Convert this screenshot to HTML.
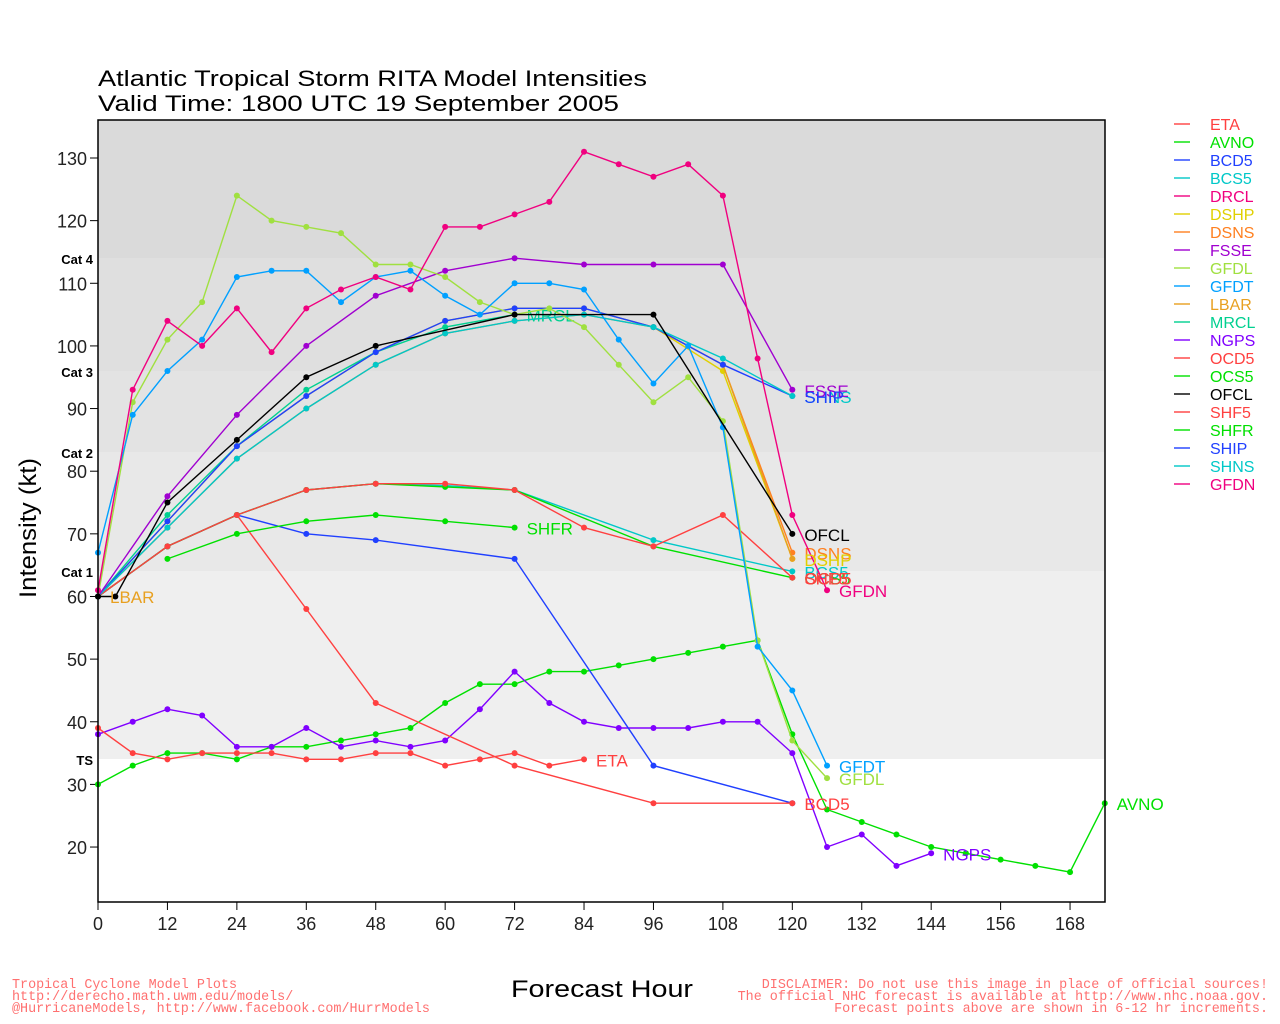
<!DOCTYPE html>
<html><head><meta charset="utf-8"><style>
html,body{margin:0;padding:0;background:#fff;}
svg{display:block;font-family:"Liberation Sans",sans-serif;}
</style></head><body>
<svg id="s" width="1280" height="1024" xmlns="http://www.w3.org/2000/svg">
<rect x="98" y="120" width="1007" height="782" fill="#fff"/>
<rect x="98" y="120" width="1007" height="138" fill="#dadada"/>
<rect x="98" y="258" width="1007" height="113" fill="#dfdfdf"/>
<rect x="98" y="371" width="1007" height="81" fill="#e3e3e3"/>
<rect x="98" y="452" width="1007" height="119" fill="#e8e8e8"/>
<rect x="98" y="571" width="1007" height="188" fill="#efefef"/>
<text x="98" y="86" font-size="22" fill="#000" textLength="549" lengthAdjust="spacingAndGlyphs">Atlantic Tropical Storm RITA Model Intensities</text>
<text x="98" y="111" font-size="22" fill="#000" textLength="521" lengthAdjust="spacingAndGlyphs">Valid Time: 1800 UTC 19 September 2005</text>
<g font-size="13" font-weight="bold" fill="#000" text-anchor="end">
<text x="93" y="264">Cat 4</text><text x="93" y="377">Cat 3</text><text x="93" y="458">Cat 2</text><text x="93" y="577">Cat 1</text><text x="93" y="765">TS</text>
</g>
<text transform="translate(36,598) rotate(-90)" font-size="24" textLength="140" lengthAdjust="spacingAndGlyphs">Intensity (kt)</text>
<text x="511" y="997" font-size="24" textLength="182" lengthAdjust="spacingAndGlyphs">Forecast Hour</text>
<g font-family="Liberation Mono,monospace" font-size="13.4" fill="#ff7070">
<text x="12" y="988">Tropical Cyclone Model Plots</text>
<text x="12" y="1000">http://derecho.math.uwm.edu/models/</text>
<text x="12" y="1012">@HurricaneModels, http://www.facebook.com/HurrModels</text>
<g text-anchor="end"><text x="1268" y="988">DISCLAIMER: Do not use this image in place of official sources!</text>
<text x="1268" y="1000">The official NHC forecast is available at http://www.nhc.noaa.gov.</text>
<text x="1268" y="1012">Forecast points above are shown in 6-12 hr increments.</text></g>
</g>
<g id="ax"></g><g id="ser"></g><g id="leg"></g>
<rect x="98" y="120" width="1007" height="782" fill="none" stroke="#000" stroke-width="1.5"/>
</svg>
<script>
var NS="http://www.w3.org/2000/svg";
function X(h){return 98+h*5.786;}function Y(v){return 158+(130-v)*6.264;}
function el(p,t,a,txt){var e=document.createElementNS(NS,t);for(var k in a)e.setAttribute(k,a[k]);if(txt!=null)e.textContent=txt;p.appendChild(e);return e;}
var ax=document.getElementById('ax');
for(var h=0;h<=168;h+=12){el(ax,'line',{x1:X(h),x2:X(h),y1:902,y2:910,stroke:'#000'});el(ax,'text',{x:X(h),y:930,'font-size':18,'text-anchor':'middle',fill:'#222'},h);}
for(var v=20;v<=130;v+=10){el(ax,'line',{x1:90,x2:98,y1:Y(v),y2:Y(v),stroke:'#000'});el(ax,'text',{x:87,y:Y(v)+7,'font-size':18,'text-anchor':'end',fill:'#222'},v);}
var C={r:'#ff4040',g:'#00e000',b:'#2040ff',c:'#00c8c8',p:'#f0007f',y:'#e0d000',o:'#ff8020',f:'#a000d0',gl:'#a0e040',gt:'#00a0ff',lb:'#e8a020',mr:'#00d090',ng:'#8000ff',k:'#000'};
function P(a){var r=[];for(var i=0;i<a.length;i+=2)r.push([a[i],a[i+1]]);return r;}
var S=[
['DSHP',C.y,P([0,60,12,72,24,84,36,92,48,99,60,104,72,106,84,106,96,103,108,96,120,66]),null],
['DSNS',C.o,P([0,60,12,71,24,82,36,90,48,97,60,102,72,104,84,105,96,103,108,97,120,67]),'DSNS'],
['LBAR',C.lb,P([108,97,120,66]),null],
['LBAR',C.lb,P([0,60]),null],
['AVNO',C.g,P([0,30,6,33,12,35,18,35,24,34,30,36,36,36,42,37,48,38,54,39,60,43,66,46,72,46,78,48,84,48,90,49,96,50,102,51,108,52,114,53,120,38,126,26,132,24,138,22,144,20,150,19,156,18,162,17,168,16,174,27]),'AVNO'],
['NGPS',C.ng,P([0,38,6,40,12,42,18,41,24,36,30,36,36,39,42,36,48,37,54,36,60,37,66,42,72,48,78,43,84,40,90,39,96,39,102,39,108,40,114,40,120,35,126,20,132,22,138,17,144,19]),'NGPS'],
['ETA',C.r,P([0,39,6,35,12,34,18,35,24,35,30,35,36,34,42,34,48,35,54,35,60,33,66,34,72,35,78,33,84,34]),'ETA'],
['BCD5',C.b,P([0,60,12,68,24,73,36,70,48,69,72,66,96,33,120,27]),null],
['OCD5',C.r,P([0,60,12,68,24,73,36,58,48,43,72,33,96,27,120,27]),'BCD5'],
['SHFR',C.g,P([12,66,24,70,36,72,48,73,60,72,72,71]),'SHFR'],
['BCS5',C.c,P([0,60,12,68,24,73,36,77,48,78,60,77.7,72,77,96,69,120,64]),'BCS5'],
['OCS5',C.g,P([0,60,12,68,24,73,36,77,48,78,60,77.5,72,77,96,68,120,63]),'OCS5'],
['SHF5',C.r,P([0,60,12,68,24,73,36,77,48,78,60,78,72,77,84,71,96,68,108,73,120,63]),'SHF5'],
['MRCL',C.mr,P([0,60,12,73,24,84,36,93,48,99,60,103,72,105]),'MRCL'],
['SHIP',C.b,P([0,60,12,72,24,84,36,92,48,99,60,104,72,106,84,106,96,103,108,97,120,92]),null],
['SHNS',C.c,P([0,60,12,71,24,82,36,90,48,97,60,102,72,104,84,105,96,103,108,98,120,92]),'SHNS'],
['FSSE',C.f,P([0,60,12,76,24,89,36,100,48,108,60,112,72,114,84,113,96,113,108,113,120,93]),'FSSE'],
['GFDL',C.gl,P([0,60,6,91,12,101,18,107,24,124,30,120,36,119,42,118,48,113,54,113,60,111,66,107,72,105,78,106,84,103,90,97,96,91,102,95,108,88,114,53,120,37,126,31]),'GFDL'],
['GFDT',C.gt,P([0,67,6,89,12,96,18,101,24,111,30,112,36,112,42,107,48,111,54,112,60,108,66,105,72,110,78,110,84,109,90,101,96,94,102,100,108,87,114,52,120,45,126,33]),'GFDT'],
['GFDN',C.p,P([0,61,6,93,12,104,18,100,24,106,30,99,36,106,42,109,48,111,54,109,60,119,66,119,72,121,78,123,84,131,90,129,96,127,102,129,108,124,114,98,120,73,126,61]),'GFDN'],
['OFCL',C.k,P([0,60,3,60,12,75,24,85,36,95,48,100,72,105,96,105,120,70]),'OFCL']
];
var g=document.getElementById('ser');
S.forEach(function(s){
 var pts=s[2].map(function(p){return X(p[0]).toFixed(1)+','+Y(p[1]).toFixed(1);}).join(' ');
 el(g,'polyline',{points:pts,fill:'none',stroke:s[1],'stroke-width':1.4});
 s[2].forEach(function(p){el(g,'circle',{cx:X(p[0]),cy:Y(p[1]),r:3,fill:s[1]});});
 if(s[3]){var l=s[2][s[2].length-1];el(g,'text',{x:X(l[0])+12,y:Y(l[1])+7,'font-size':17,fill:s[1]},s[3]);}
});
el(g,'text',{x:110,y:603,'font-size':17,fill:C.lb},'LBAR');
el(g,'text',{x:X(120)+12,y:Y(66)+7,'font-size':17,fill:C.y},'DSHP');
el(g,'text',{x:X(120)+12,y:Y(92)+7,'font-size':17,fill:C.b},'SHIP');
el(g,'text',{x:X(120)+12,y:Y(63)+7,'font-size':17,fill:C.r},'OCD5');
var L=[['ETA',C.r],['AVNO',C.g],['BCD5',C.b],['BCS5',C.c],['DRCL',C.p],['DSHP',C.y],['DSNS',C.o],['FSSE',C.f],['GFDL',C.gl],['GFDT',C.gt],['LBAR',C.lb],['MRCL',C.mr],['NGPS',C.ng],['OCD5',C.r],['OCS5',C.g],['OFCL',C.k],['SHF5',C.r],['SHFR',C.g],['SHIP',C.b],['SHNS',C.c],['GFDN',C.p]];
var lg=document.getElementById('leg');
L.forEach(function(a,i){var y=124+i*18;el(lg,'line',{x1:1174,x2:1190,y1:y,y2:y,stroke:a[1],'stroke-width':1.4});el(lg,'text',{x:1210,y:y+6,'font-size':16,fill:a[1]},a[0]);});
</script>
</body></html>
